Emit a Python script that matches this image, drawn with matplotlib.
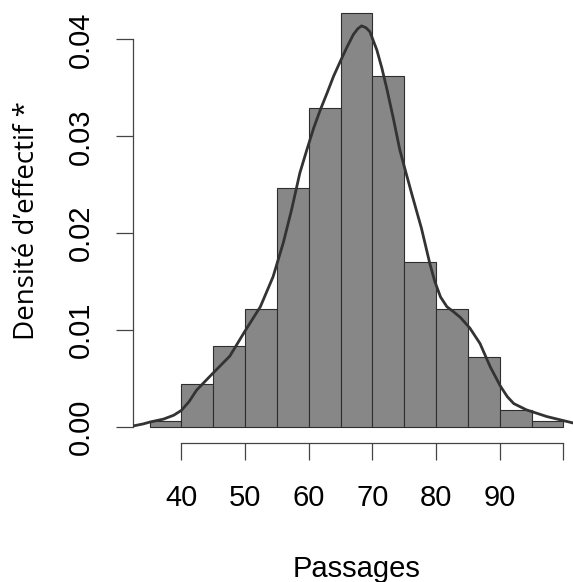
import matplotlib
matplotlib.use("Agg")
import matplotlib.pyplot as plt
import numpy as np

# Histogram data (density per 5-unit bin)
bin_edges = [35, 40, 45, 50, 55, 60, 65, 70, 75, 80, 85, 90, 95, 100]
densities = [0.0006, 0.00447, 0.00833, 0.01215, 0.02463, 0.0329, 0.0427,
             0.0362, 0.0170, 0.01215, 0.0072, 0.00172, 0.0006]

# Kernel density curve
curve_x = [32.5, 34.0, 35.1, 37.2, 38.8, 40.0, 41.2, 42.4, 44.9, 47.6, 50.0,
           52.4, 54.4, 56.0, 57.3, 58.6, 59.7, 60.8, 61.8, 62.9, 63.9, 65.0,
           66.0, 67.0, 67.7, 68.3, 69.0, 69.6, 70.7, 71.5, 72.3, 73.3, 74.3,
           75.2, 76.2, 77.7, 79.0, 79.8, 80.7, 81.7, 82.7, 83.8, 85.3, 86.9,
           88.5, 90.1, 91.2, 92.2, 94.2, 97.4, 101.5, 103.0]
curve_y = [0.0001, 0.0003, 0.0005, 0.0008, 0.0012, 0.0017, 0.0026, 0.0038,
           0.0055, 0.0073, 0.0099, 0.0124, 0.0155, 0.0190, 0.0224, 0.0262,
           0.0286, 0.0309, 0.0327, 0.0345, 0.0362, 0.0378, 0.0392, 0.0405,
           0.0411, 0.0414, 0.0412, 0.0408, 0.0389, 0.0370, 0.0348, 0.0318,
           0.0286, 0.0264, 0.0240, 0.0205, 0.0169, 0.0150, 0.0134, 0.0124,
           0.0119, 0.0113, 0.0102, 0.0086, 0.0062, 0.0042, 0.0031, 0.0024,
           0.00175, 0.00106, 0.0004, 0.0002]

x_ticks = [40, 50, 60, 70, 80, 90, 100]
x_tick_labels = ["40", "50", "60", "70", "80", "90", ""]
y_ticks = [0.00, 0.01, 0.02, 0.03, 0.04]
y_tick_labels = ["0.00", "0.01", "0.02", "0.03", "0.04"]

W, H = 573, 582
fig = plt.figure(figsize=(W / 100, H / 100), dpi=100)
left_px, right_px, bottom_px, top_px = 133, 580, 443.3, -3.2
ax = fig.add_axes([left_px / W, (H - bottom_px) / H,
                   (right_px - left_px) / W, (bottom_px - top_px) / H])

edges = np.array(bin_edges, dtype=float)
ax.bar(edges[:-1], densities, width=np.diff(edges), align="edge",
       color="#878787", edgecolor="#2e2e2e", linewidth=0.8, zorder=2)
ax.plot(curve_x, curve_y, color="#333333", linewidth=2.0, zorder=3,
        solid_capstyle="round", solid_joinstyle="round")

ax.set_xlim(32.4, 102.6)
ax.set_ylim(-0.0017, 0.0444)

for s in ["top", "right"]:
    ax.spines[s].set_visible(False)
for s in ["left", "bottom"]:
    ax.spines[s].set_color("#444444")
    ax.spines[s].set_linewidth(0.9)
ax.spines["left"].set_bounds(0, 0.04)
ax.spines["bottom"].set_bounds(40, 100)

tick_font = dict(family=["Liberation Sans", "DejaVu Sans"], size=21)
ax.set_xticks(x_ticks)
ax.set_xticklabels(x_tick_labels, fontdict=tick_font)
ax.set_yticks(y_ticks)
ax.set_yticklabels(y_tick_labels, fontdict=tick_font, rotation=90,
                   va="center")
ax.tick_params(axis="both", direction="out", length=12.5, width=0.9,
               color="#444444", labelcolor="black")
ax.tick_params(axis="x", pad=17)
ax.tick_params(axis="y", pad=15)

fig.text(356.5 / W, (H - 577) / H, "Passages", ha="center", va="baseline",
         family=["Liberation Sans", "DejaVu Sans"], size=21)
fig.text(27 / W, (H - 221) / H, "Densité d\u2019effectif *", ha="center",
         va="center", rotation=90, family=["Open Sans", "DejaVu Sans"],
         size=20)

fig.savefig("out.png", dpi=100)
